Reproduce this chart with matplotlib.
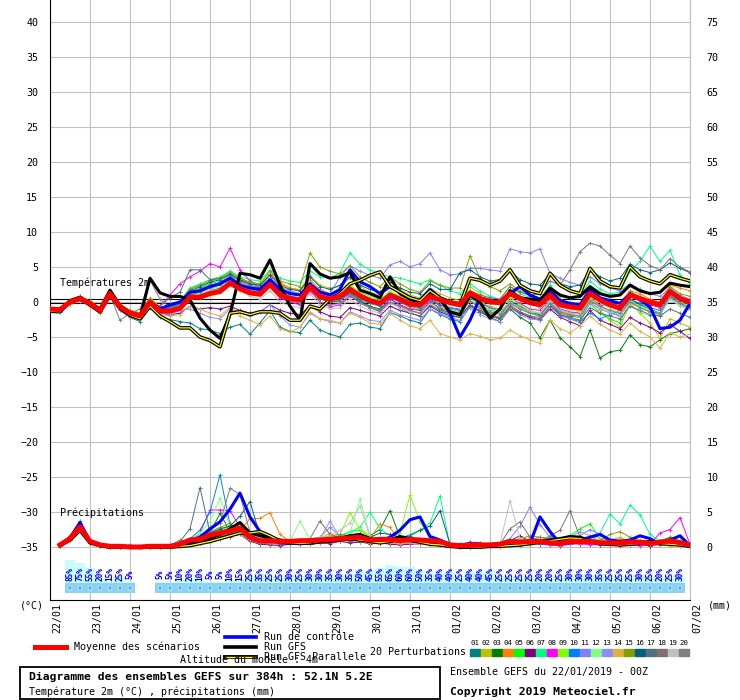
import matplotlib
matplotlib.use('Agg')
import matplotlib.pyplot as plt
import matplotlib.transforms as mtransforms
from matplotlib.lines import Line2D
from matplotlib.patches import Rectangle
import numpy as np

plt.rcParams['font.family'] = 'DejaVu Sans Mono'

# time axis: run of 384h, one point every 6h
hours = np.arange(0, 385, 6)
precip_hours = hours[1:]

date_labels = ['22/01', '23/01', '24/01', '25/01', '26/01', '27/01', '28/01', '29/01', '30/01',
               '31/01', '01/02', '02/02', '03/02', '04/02', '05/02', '06/02', '07/02']

# ---- temperatures 2m (degC) ----
mean_temp = [-1.0, -1.1, 0.0, 0.5, -0.2, -1.2, 1.2, -0.7, -1.6, -2.0, 0.0, -1.3, -1.3,
             -0.9, 0.7, 0.7, 1.2, 1.5, 2.7, 1.9, 1.3, 1.1,
             2.5, 1.0, 0.5, 0.3, 2.2, 0.8, 0.4, 0.8, 1.8, 0.9, 0.2, -0.2,
             1.0, 0.4, -0.3, -0.4, 0.8, 0.3, -0.1, -0.4, 1.3, 0.5, 0.0, -0.1,
             1.2, 0.5, -0.1, -0.4, 1.0, -0.4, -0.7, -0.9, 1.2, 0.3, -0.4, -0.9, 1.0, 0.5, 0.0, -0.4, 1.5, 0.5, 0.0]
control_temp = [-1.0, -1.1, 0.0, 0.5, -0.2, -1.1, 1.2, -0.6, -1.5, -1.9, 0.0, -1.0, -0.4,
                0.0, 1.4, 1.6, 2.2, 2.6, 3.4, 2.4, 2.0, 1.8,
                3.2, 1.8, 1.2, 1.0, 2.6, 1.4, 1.0, 1.8, 4.6, 2.9, 2.2, 1.2,
                2.2, 1.4, 0.6, 0.2, 1.8, 0.6, -1.6, -5.0, -2.6, 0.6, 0.2, 0.0,
                1.2, 2.2, 1.0, 0.4, 1.6, 0.2, -0.2, -0.4, 1.8, 0.6, 0.2, -0.2, 1.2, 0.4, -0.7, -3.8, -3.6, -2.6, -0.2]
gfs_temp = [-1.2, -1.3, 0.2, 0.7, -0.2, -1.0, 1.7, -0.5, -1.6, -2.2, 3.4, 1.3, 0.8,
            0.8, 0.3, -2.3, -4.0, -5.2, -1.8, 4.1, 3.9, 3.4,
            6.0, 2.4, -0.6, -2.6, 5.5, 4.0, 3.4, 3.6, 4.2, 1.7, 1.2, 0.6,
            3.6, 1.2, 0.4, -0.2, 1.6, 0.4, -1.4, -1.8, 1.0, 0.0, -2.3, -1.0,
            1.6, 0.6, 0.4, 0.2, 2.0, 1.0, 0.6, 0.8, 2.2, 1.2, 0.8, 1.0, 2.4, 1.6, 1.2, 1.4, 2.7, 2.4, 2.2]
para_temp = [-1.3, -1.4, 0.1, 0.5, -0.4, -1.4, 1.0, -0.9, -1.9, -2.4, -0.6, -2.0, -2.8,
             -3.7, -3.7, -5.0, -5.5, -6.4, -1.6, -1.4, -1.8, -1.4,
             -1.4, -1.6, -2.6, -2.6, -0.6, -1.0, 0.4, 1.2, 2.6, 3.1, 3.8, 4.3,
             2.2, 1.4, 0.6, 0.2, 1.6, 0.6, 0.0, -0.4, 3.4, 3.1, 2.4, 3.0,
             4.6, 2.4, 1.6, 1.2, 4.1, 2.4, 1.6, 1.2, 4.8, 3.0, 2.2, 2.0, 5.0, 3.6, 3.0, 2.6, 3.9, 3.4, 3.0]

temp_p01 = [-1.2, -1.4, -0.3, 0.2, -0.6, -1.6, 0.8, -1.2, -2.2, -2.8, -0.8, -2.2, -2.5,
            -2.8, -3.0, -3.8, -4.0, -4.5, -3.6, -3.2, -4.6, -3.0,
            -1.2, -3.6, -4.2, -4.4, -2.6, -4.0, -4.6, -5.0, -3.2, -3.0, -3.6, -3.8,
            -1.5, -2.0, -2.6, -3.0, -1.0, -1.8, -2.4, -2.8, -0.6, -1.2, -1.8, -2.2,
            0.2, -0.6, -1.4, -1.8, 0.0, -1.6, -2.0, -2.2, 0.6, -0.6, -1.4, -2.0, 0.4, -0.4, -1.0, -1.6, 1.0, -0.2, -0.8]
temp_p02 = [-0.8, -0.9, 0.3, 0.8, 0.1, -0.9, 1.6, -0.3, -1.2, -1.5, 0.6, -0.7, -0.6,
            0.2, 2.0, 2.4, 3.0, 3.4, 4.4, 3.4, 2.8, 2.6,
            4.0, 2.6, 2.0, 1.8, 3.8, 2.4, 2.0, 2.2, 3.4, 2.2, 1.4, 1.0,
            2.4, 1.8, 1.0, 0.6, 2.0, 1.2, 0.6, 0.2, 2.2, 1.2, 0.4, 0.0,
            1.8, 0.8, -0.2, -0.8, 1.2, -1.2, -2.4, -3.0, 0.4, -1.2, -2.6, -3.6, -0.2, -1.6, -3.0, -5.2, -2.4, -3.0, -3.6]
temp_p03 = [-1.1, -1.2, 0.1, 0.6, -0.1, -1.1, 1.3, -0.6, -1.4, -1.8, 0.4, -1.0, -1.0,
            -0.4, 1.4, 1.8, 2.4, 2.6, 3.6, 2.6, 2.0, 1.6,
            3.0, 1.4, 0.6, 0.2, 2.4, 0.6, 0.0, 0.2, 1.4, 0.2, -0.6, -1.0,
            0.4, -0.4, -1.2, -1.6, 0.0, -1.0, -1.6, -2.0, -0.4, -1.4, -2.2, -2.8,
            -1.0, -2.2, -3.0, -5.1, -2.6, -5.1, -6.4, -7.8, -4.0, -8.0, -7.1, -6.9, -4.7, -6.1, -6.4, -5.4, -4.5, -4.2, -3.8]
temp_p04 = [-1.0, -1.0, 0.2, 0.7, 0.0, -1.0, 1.4, -0.5, -1.3, -1.7, 0.3, -1.1, -1.2,
            -0.6, 1.0, 1.4, 2.2, 2.8, 3.4, 2.8, 2.2, 2.0,
            4.0, 2.8, 2.0, 1.6, 3.2, 1.8, 1.2, 1.4, 2.4, 1.2, 0.4, -0.2,
            0.8, 0.0, -0.8, -1.2, 0.4, -0.6, -1.4, -1.8, 0.2, -1.0, -1.6, -2.4,
            -0.4, -1.4, -2.0, -2.2, -0.6, -1.6, -1.8, -1.4, 0.6, 0.2, -0.6, -0.8, 1.6, 1.2, 0.4, 0.0, 2.4, 2.0, 1.6]
temp_p05 = [-1.0, -1.2, -0.1, 0.4, -0.3, -1.3, 1.1, -0.8, -1.7, -2.1, -0.2, -1.4, -1.2,
            -0.5, 1.4, 2.0, 2.6, 3.0, 3.8, 3.0, 2.6, 2.2,
            3.2, 2.0, 1.4, 1.0, 2.8, 1.4, 0.8, 1.0, 2.2, 1.0, 0.2, -0.4,
            1.0, 0.2, -0.6, -1.0, 0.6, -0.4, -1.0, -1.4, 0.6, -0.4, -1.2, -1.6,
            0.0, -1.0, -1.6, -2.0, 0.6, -1.2, -1.6, -2.2, -0.2, -1.6, -2.4, -3.0, 0.2, -0.8, -1.4, -1.8, 0.8, 0.2, -0.4]
temp_p06 = [-1.1, -1.2, 0.0, 0.4, -0.3, -1.3, 1.0, -0.9, -1.8, -2.2, -0.4, -1.6, -1.8,
            -1.6, -0.6, -1.0, -0.8, -1.0, -0.6, -1.2, -1.6, -1.4,
            -0.4, -1.2, -1.6, -1.8, -0.6, -1.4, -2.0, -2.2, -0.8, -1.2, -1.6, -2.0,
            -0.6, -1.2, -1.6, -2.0, -0.6, -1.4, -2.0, -2.2, -0.4, -1.4, -2.0, -2.4,
            -0.8, -1.6, -2.2, -2.6, -1.0, -2.2, -2.8, -3.4, -1.2, -2.6, -3.2, -3.8, -2.2, -3.0, -3.6, -4.4, -3.2, -4.2, -5.2]
temp_p07 = [-0.9, -0.9, 0.2, 0.7, 0.1, -0.9, 1.5, -0.4, -1.3, -1.6, 0.4, -0.9, -0.8,
            0.0, 2.0, 2.6, 3.2, 3.6, 4.4, 3.6, 3.2, 3.0,
            4.6, 3.4, 3.0, 2.8, 4.4, 3.6, 3.4, 4.2, 7.0, 5.4, 4.6, 4.0,
            3.6, 3.4, 3.0, 2.6, 3.2, 2.4, 1.6, 1.2, 2.6, 1.6, 0.8, 0.4,
            2.2, 1.2, 0.6, 0.4, 2.4, 0.8, 0.6, 0.8, 3.0, 1.8, 1.2, 1.4, 4.4, 5.8, 8.0, 5.8, 7.4, 3.8, 2.6]
temp_p08 = [-1.0, -1.1, 0.1, 0.6, -0.1, -1.1, 1.3, -0.6, -1.5, -1.9, 0.1, -0.6, 1.0,
            2.6, 3.6, 4.4, 5.5, 5.0, 7.7, 4.6, 3.0, 2.0,
            2.6, 0.6, 0.0, -0.4, 1.6, 0.0, -0.7, -0.4, 0.8, 0.0, -0.8, -1.2,
            0.4, -0.4, -1.0, -1.2, 0.2, -0.4, -0.8, -1.0, 0.8, 0.0, -0.8, -1.0,
            0.6, -0.2, -1.0, -1.2, 0.4, -1.0, -1.4, -1.6, 0.6, -0.4, -0.6, -0.8, 0.8, 0.2, -0.4, -0.8, 1.2, 0.4, 0.0]
temp_p09 = [-1.1, -1.0, 0.0, 0.5, -0.2, -1.2, 1.2, -0.7, -1.6, -2.0, -0.1, -1.4, -1.5,
            -1.0, 0.4, 0.6, 1.0, 1.4, 2.4, 1.8, 1.2, 1.0,
            2.4, 1.0, 0.6, 0.4, 2.6, 1.4, 0.8, 1.2, 2.4, 1.4, 0.8, 0.4,
            1.6, 0.8, 0.2, 0.0, 1.2, 0.4, -0.2, -0.6, 0.8, 0.0, -0.6, -1.0,
            0.6, -0.4, -1.2, -1.6, 0.2, -1.4, -1.8, -2.2, 0.6, -0.6, -1.4, -1.8, 0.2, -0.6, -1.2, -1.6, 1.0, 0.0, -0.6]
temp_p10 = [-1.0, -1.1, 0.0, 0.5, -0.3, -1.2, 1.2, -0.6, -1.6, -2.0, 0.0, -1.2, -1.0,
            -0.6, 1.2, 1.6, 2.2, 2.6, 3.2, 2.6, 2.0, 1.6,
            2.8, 1.4, 0.8, 0.6, 2.2, 0.6, 0.2, 0.4, 1.4, 0.4, -0.2, -0.6,
            0.6, 0.0, -0.6, -0.8, 0.4, -0.4, -0.8, -1.2, 0.8, -0.2, -0.8, -1.4,
            0.0, -0.8, -1.4, -1.8, -0.2, -1.8, -2.4, -2.8, -1.6, -2.4, -1.8, -1.2, 0.4, -0.2, -0.8, -1.2, 0.8, 0.2, -0.4]
temp_p11 = [-0.9, -1.0, 0.1, 0.6, -0.1, -1.1, 1.3, -0.5, -1.4, -1.8, 0.2, -1.0, -0.9,
            -0.4, 1.2, 1.8, 2.4, 2.8, 3.6, 2.6, 2.0, 1.8,
            3.4, 2.2, 1.6, 1.2, 2.8, 1.6, 1.2, 3.6, 5.2, 4.4, 3.8, 3.4,
            5.3, 5.8, 5.0, 5.5, 7.0, 4.6, 3.9, 4.0, 4.8, 4.8, 4.6, 4.4,
            7.6, 7.2, 7.0, 7.6, 4.1, 3.4, 2.8, 2.4, 3.6, 2.6, 2.0, 1.6, 2.6, 1.8, 1.2, 0.8, 2.0, 1.0, 0.4]
temp_p12 = [-1.0, -1.1, 0.0, 0.6, -0.2, -1.2, 1.2, -0.7, -1.5, -1.9, 0.1, -1.2, -1.1,
            -0.6, 1.0, 1.2, 1.8, 2.2, 3.0, 2.2, 1.6, 1.4,
            2.8, 1.2, 0.8, 0.6, 2.4, 1.0, 0.6, 1.0, 2.0, 1.2, 0.6, 0.2,
            1.4, 0.8, 0.2, -0.2, 1.0, 0.2, -0.4, -0.8, 1.6, 0.8, 0.2, -0.2,
            1.6, 0.6, -0.2, -0.6, 1.2, -0.6, -1.2, -1.4, 0.8, 0.0, -1.0, -1.6, -0.6, -1.4, -2.0, -1.8, 0.4, -0.6, -1.2]
temp_p13 = [-1.1, -1.3, -0.2, 0.3, -0.4, -1.4, 1.0, -0.9, -1.8, -2.2, -0.3, -1.6, -1.7,
            -1.2, -1.0, -1.6, -2.2, -2.4, -1.0, -1.4, -2.0, -1.4,
            -0.4, -2.0, -3.3, -3.6, -1.6, -2.4, -2.8, -3.0, -1.4, -2.0, -2.6, -2.8,
            -1.2, -1.8, -2.2, -2.6, -1.0, -1.6, -2.2, -2.6, -0.8, -1.8, -2.4, -2.8,
            -0.8, -1.8, -2.4, -2.6, -0.6, -2.0, -2.4, -2.6, -0.2, -1.0, -1.6, -2.0, 0.0, -0.8, -1.4, -1.8, 0.6, -0.4, -1.0]
temp_p14 = [-1.2, -1.4, -0.3, 0.2, -0.5, -1.6, 0.9, -1.0, -2.0, -2.4, -0.6, -1.8, -2.0,
            -1.8, -0.6, -1.0, -1.6, -2.0, -0.8, -2.0, -2.6, -3.3,
            -2.0, -3.8, -4.3, -3.6, -1.4, -2.4, -2.6, -3.0, -1.6, -2.2, -3.0, -3.2,
            -1.6, -2.6, -3.4, -3.8, -2.6, -4.5, -5.0, -5.4, -4.5, -4.9, -5.4, -5.2,
            -4.0, -4.8, -5.4, -5.9, -2.6, -3.8, -4.4, -3.4, -2.0, -3.2, -4.0, -4.6, -3.0, -4.2, -5.0, -6.6, -4.4, -5.0, -4.6]
temp_p15 = [-0.9, -0.9, 0.2, 0.8, 0.1, -0.9, 1.5, -0.4, -1.2, -1.6, 0.5, -0.8, -0.7,
            0.0, 1.8, 2.4, 3.0, 3.4, 4.2, 3.4, 2.8, 2.6,
            4.4, 3.0, 2.6, 2.2, 7.0, 5.0, 4.4, 4.0, 5.2, 3.6, 2.8, 2.2,
            3.6, 2.6, 1.8, 1.4, 3.0, 2.4, 2.0, 2.0, 6.6, 3.4, 2.2, 1.6,
            2.6, 1.6, 0.8, 0.4, 2.0, 0.4, -0.2, -0.4, 1.8, 0.6, 0.0, -0.6, 1.6, 0.6, -0.2, -0.6, 2.2, 1.2, 0.8]
temp_p16 = [-1.0, -1.1, 0.0, 0.5, -0.2, -1.2, 1.2, -0.6, -1.5, -1.9, 0.2, -1.0, -0.8,
            -0.2, 1.6, 2.2, 2.8, 3.2, 4.0, 3.2, 2.6, 2.4,
            3.8, 2.4, 1.8, 1.6, 3.6, 2.2, 1.8, 2.4, 3.6, 2.4, 1.8, 1.4,
            2.8, 2.0, 1.4, 1.2, 2.6, 1.8, 1.8, 4.2, 4.6, 3.6, 3.0, 3.2,
            4.4, 3.2, 2.6, 2.4, 4.0, 2.6, 2.2, 2.4, 4.6, 3.6, 3.0, 3.4, 5.4, 4.6, 4.2, 4.6, 5.6, 4.8, 4.2]
temp_p17 = [-1.1, -1.2, -0.1, 0.4, -0.3, -1.3, 1.1, -0.8, -1.6, -2.0, -0.2, -0.6, 0.6,
            1.4, 4.6, 4.6, 3.2, 3.4, 3.8, 3.0, 2.4, 2.0,
            3.0, 1.4, 0.8, 0.4, 2.0, 0.4, 0.0, 0.2, 1.2, 0.0, -0.8, -1.4,
            0.0, -0.8, -1.6, -2.0, -0.4, -1.2, -1.8, -2.2, -0.4, -1.4, -2.0, -2.4,
            -0.6, -1.4, -2.0, -2.4, -0.6, -1.8, -2.2, -2.6, -0.8, -1.6, -2.0, -2.4, -0.6, -1.2, -1.8, -2.0, -1.0, -1.6, -2.2]
temp_p18 = [-1.0, -1.0, 0.1, 0.6, -0.1, -1.1, 1.3, -0.6, -1.5, -1.9, 0.1, -1.1, -1.1,
            -0.8, 0.6, 1.0, 1.6, 2.0, 2.8, 2.0, 1.4, 1.2,
            2.6, 1.2, 0.6, 0.4, 2.2, 0.8, 0.4, 0.8, 1.8, 1.0, 0.4, 0.0,
            1.2, 0.6, 0.0, -0.2, 1.2, 0.6, 0.2, 0.0, 1.6, 1.0, 0.6, 0.4,
            2.2, 1.4, 1.0, 1.2, 3.0, 2.4, 4.6, 7.2, 8.4, 8.0, 6.7, 5.5, 8.0, 6.3, 5.2, 4.6, 6.2, 5.0, 4.3]
temp_p19 = [-1.0, -1.2, 0.0, 0.5, -0.2, -1.2, 1.1, -0.7, -1.6, -2.1, -0.1, -1.3, -1.4,
            -0.9, 0.8, 0.8, 1.6, 1.8, 2.6, 1.6, 0.8, 0.4,
            1.6, 0.0, -0.6, -0.8, 1.2, -0.4, -1.0, -0.8, 0.4, -0.6, -1.2, -1.6,
            -0.2, -0.8, -1.4, -1.6, -0.2, -0.8, -1.2, -1.6, 0.2, -0.6, -1.0, -1.4,
            0.0, -0.8, -1.4, -1.6, 0.0, -1.2, -1.6, -1.8, 0.2, -0.8, -1.4, -1.8, -0.2, -0.8, -1.4, -1.6, 0.4, -0.4, -1.0]
temp_p20 = [-1.1, -1.2, 0.0, 0.4, -0.3, -1.3, 1.0, -2.6, -1.6, -1.0, 3.1, 0.4, -0.8,
            -0.6, 1.0, 1.4, 2.0, 2.4, 3.2, 2.4, 1.8, 1.4,
            2.8, 1.0, 0.2, -0.2, 1.8, 0.0, -0.4, -0.2, 1.0, -0.2, -0.8, -1.2,
            0.0, -0.6, -1.2, -1.6, 0.0, -0.8, -1.4, -1.8, 0.2, -0.8, -1.4, -1.8,
            -0.2, -1.0, -1.6, -2.0, -0.2, -1.4, -1.8, -2.0, 0.2, -0.6, -1.2, -1.6, 0.0, -0.8, -1.4, -1.6, 0.8, -0.2, -0.8]

# ---- precipitations (mm / 6h), from +6h ----
mean_precip = [0.3, 1.2, 2.9, 0.8, 0.3, 0.1, 0.1, 0.0,
               0.0, 0.1, 0.1, 0.1, 0.4, 1.0, 1.1, 1.7,
               2.0, 2.3, 2.7, 1.4, 0.9, 0.9, 0.8, 0.8,
               0.9, 0.9, 1.0, 1.1, 1.2, 1.3, 1.4, 1.0,
               1.1, 1.1, 0.9, 1.1, 1.0, 0.9, 0.8, 0.3,
               0.2, 0.2, 0.3, 0.3, 0.4, 0.8, 0.7, 0.8,
               0.8, 0.6, 0.5, 0.8, 0.8, 0.8, 0.6, 0.6,
               0.6, 0.7, 0.7, 0.5, 0.7, 0.9, 0.6, 0.3]
control_precip = [0.3, 1.3, 3.5, 0.8, 0.2, 0.0, 0.0, 0.0,
                  0.0, 0.0, 0.0, 0.0, 0.2, 0.6, 1.4, 2.6,
                  3.6, 5.4, 7.7, 4.3, 2.2, 1.0, 0.6, 0.5,
                  0.6, 0.7, 0.8, 1.0, 1.2, 1.6, 1.4, 1.0,
                  0.8, 1.4, 2.4, 3.9, 4.3, 1.5, 1.0, 0.3,
                  0.0, 0.0, 0.1, 0.2, 0.4, 0.4, 0.3, 0.5,
                  4.3, 2.2, 0.5, 0.6, 0.8, 1.4, 1.8, 1.0,
                  0.8, 1.0, 1.6, 1.2, 0.4, 1.0, 1.6, 0.2]
gfs_precip = [0.3, 1.1, 2.6, 0.7, 0.2, 0.0, 0.0, 0.0,
              0.0, 0.0, 0.0, 0.0, 0.1, 0.3, 0.8, 1.2,
              1.8, 2.6, 3.5, 2.0, 1.6, 1.4, 1.0, 0.8,
              0.6, 0.5, 0.7, 0.8, 1.2, 1.6, 1.8, 1.2,
              0.8, 1.0, 1.5, 1.2, 0.8, 0.5, 0.3, 0.1,
              0.0, 0.0, 0.0, 0.1, 0.2, 0.3, 0.4, 0.6,
              0.8, 1.0, 1.2, 1.5, 1.4, 0.9, 0.6, 0.5,
              0.4, 0.5, 0.6, 0.8, 0.6, 0.5, 0.4, 0.1]
para_precip = [0.2, 1.0, 2.4, 0.6, 0.2, 0.0, 0.0, 0.0,
               0.0, 0.0, 0.0, 0.0, 0.1, 0.2, 0.5, 0.8,
               1.2, 1.6, 2.0, 2.0, 2.2, 1.6, 0.8, 0.6,
               0.5, 0.6, 0.8, 0.9, 1.0, 1.2, 1.0, 0.8,
               0.6, 0.8, 1.2, 1.0, 0.7, 0.4, 0.3, 0.1,
               0.0, 0.0, 0.0, 0.1, 0.1, 0.2, 0.3, 0.5,
               0.7, 0.9, 1.1, 1.3, 1.2, 0.8, 0.5, 0.4,
               0.3, 0.4, 0.5, 0.6, 0.5, 0.4, 0.3, 0.1]

precip_p01 = [0.2, 1.0, 2.6, 0.6, 0.2, 0.0, 0.0, 0.3,
              0.0, 0.0, 0.0, 0.0, 0.3, 0.6, 1.0, 1.2,
              1.8, 2.4, 3.0, 1.2, 0.5, 0.6, 0.4, 0.5,
              0.6, 0.4, 0.8, 1.0, 0.9, 1.2, 1.6, 0.6,
              0.8, 0.6, 0.5, 0.8, 0.6, 0.4, 0.5, 0.1,
              0.0, 0.0, 0.2, 0.1, 0.3, 0.6, 0.4, 0.5,
              0.6, 0.3, 0.2, 0.4, 0.5, 0.6, 0.3, 0.4,
              0.5, 0.3, 0.4, 0.2, 0.5, 0.7, 0.4, 0.2]
precip_p02 = [0.3, 1.4, 3.0, 0.9, 0.2, 0.0, 0.0, 0.0,
              0.0, 0.0, 0.0, 0.0, 0.2, 0.8, 1.2, 1.6,
              2.6, 1.8, 2.2, 1.0, 0.6, 0.8, 0.6, 0.4,
              0.5, 0.8, 1.2, 2.0, 1.0, 0.8, 0.9, 0.4,
              0.6, 0.8, 0.6, 0.4, 0.6, 0.5, 0.3, 0.0,
              0.0, 0.1, 0.0, 0.2, 0.1, 0.4, 0.5, 0.3,
              0.6, 0.4, 0.2, 0.5, 0.4, 0.6, 0.8, 0.4,
              0.5, 0.6, 1.0, 0.7, 0.4, 0.3, 0.2, 0.1]
precip_p03 = [0.2, 1.1, 2.8, 0.7, 0.3, 0.0, 0.0, 0.0,
              0.0, 0.0, 0.0, 0.0, 0.5, 1.2, 1.6, 2.0,
              4.8, 2.2, 2.6, 1.0, 0.6, 0.6, 0.5, 0.6,
              0.8, 0.6, 0.8, 1.2, 1.0, 0.9, 1.2, 1.6,
              2.5, 5.2, 1.4, 1.2, 0.8, 0.6, 0.9, 0.2,
              0.0, 0.0, 0.1, 0.3, 0.2, 0.4, 0.5, 0.4,
              0.5, 0.6, 0.7, 0.9, 1.2, 0.8, 0.6, 0.5,
              0.4, 0.6, 0.5, 0.6, 0.8, 1.4, 0.8, 0.3]
precip_p04 = [0.4, 1.2, 2.7, 0.8, 0.2, 0.0, 0.0, 0.0,
              0.0, 0.0, 0.0, 0.0, 0.6, 1.0, 0.8, 1.4,
              1.6, 2.0, 2.4, 4.0, 4.1, 4.9, 1.8, 0.8,
              0.6, 0.4, 0.6, 0.8, 1.0, 1.2, 1.0, 1.2,
              3.3, 2.8, 0.8, 0.6, 0.5, 0.4, 0.3, 0.1,
              0.0, 0.0, 0.2, 0.1, 0.0, 0.2, 0.3, 0.4,
              0.6, 0.8, 0.6, 0.5, 0.9, 1.0, 0.8, 0.9,
              1.2, 0.8, 0.6, 0.4, 0.3, 0.2, 0.2, 0.1]
precip_p05 = [0.3, 1.3, 3.0, 0.8, 0.3, 0.0, 0.0, 0.0,
              0.0, 0.0, 0.0, 0.0, 0.3, 0.8, 1.4, 2.0,
              2.4, 3.0, 3.2, 1.6, 0.8, 0.6, 0.8, 0.7,
              0.9, 1.0, 0.8, 1.4, 1.6, 2.2, 2.4, 1.4,
              1.0, 1.2, 0.8, 1.0, 0.6, 0.8, 0.6, 0.2,
              0.1, 0.0, 0.2, 0.3, 0.5, 0.8, 0.6, 0.9,
              0.8, 1.0, 1.2, 1.6, 2.6, 3.3, 1.2, 1.0,
              0.8, 0.6, 0.5, 0.4, 0.6, 0.9, 0.5, 0.3]
precip_p06 = [0.3, 1.1, 2.6, 0.8, 0.3, 0.0, 0.0, 0.0,
              0.0, 0.0, 0.0, 0.0, 0.2, 0.5, 0.6, 0.8,
              1.2, 1.5, 1.8, 0.8, 0.4, 0.3, 0.2, 0.4,
              0.5, 0.8, 0.6, 0.5, 0.8, 0.6, 0.7, 0.5,
              0.6, 0.4, 0.3, 0.4, 0.5, 0.6, 0.4, 0.2,
              0.4, 0.7, 0.6, 0.3, 0.5, 0.9, 1.6, 0.8,
              0.6, 0.4, 0.3, 0.6, 0.5, 0.4, 0.3, 0.3,
              0.5, 0.4, 0.3, 0.2, 0.4, 0.6, 0.4, 0.2]
precip_p07 = [0.3, 1.2, 2.8, 0.8, 0.2, 0.0, 0.0, 0.0,
              0.0, 0.0, 0.0, 0.0, 0.4, 0.9, 1.3, 1.6,
              2.0, 2.4, 2.8, 1.6, 0.8, 0.5, 0.4, 0.6,
              0.7, 0.6, 0.9, 1.0, 1.4, 2.2, 2.8, 5.0,
              2.6, 1.6, 1.2, 1.8, 2.4, 3.4, 7.3, 0.2,
              0.0, 0.1, 0.2, 0.1, 0.2, 0.3, 0.2, 0.4,
              0.5, 0.4, 0.3, 0.9, 1.2, 1.6, 2.0, 4.7,
              3.3, 6.0, 4.6, 1.8, 0.9, 1.2, 1.0, 0.4]
precip_p08 = [0.3, 1.0, 2.4, 0.6, 0.2, 0.0, 0.0, 0.0,
              0.0, 0.0, 0.0, 0.0, 0.3, 0.9, 2.0, 5.3,
              5.3, 5.2, 2.8, 1.0, 0.6, 0.5, 0.4, 0.6,
              0.6, 0.8, 0.7, 0.9, 1.0, 1.2, 1.0, 0.8,
              0.6, 0.8, 0.6, 0.5, 0.4, 0.4, 0.3, 0.1,
              0.0, 0.0, 0.1, 0.2, 0.2, 0.5, 0.4, 0.5,
              0.4, 0.3, 0.2, 0.4, 0.5, 0.3, 0.4, 0.3,
              0.2, 0.3, 0.2, 0.4, 2.0, 2.5, 4.2, 0.4]
precip_p09 = [0.3, 1.3, 2.9, 0.9, 0.3, 0.0, 0.0, 0.0,
              0.0, 0.0, 0.0, 0.0, 0.2, 0.8, 1.2, 1.8,
              2.2, 2.8, 3.2, 1.4, 0.8, 0.6, 0.6, 0.8,
              0.9, 1.0, 1.2, 1.4, 1.8, 4.9, 2.6, 1.6,
              1.2, 1.4, 2.0, 7.4, 3.6, 1.2, 0.6, 0.2,
              0.0, 0.1, 0.1, 0.2, 0.4, 0.6, 0.5, 0.7,
              0.9, 0.8, 0.6, 0.7, 0.9, 1.2, 0.8, 0.6,
              0.5, 0.6, 0.4, 0.5, 0.7, 0.8, 0.6, 0.3]
precip_p10 = [0.3, 1.4, 3.5, 0.9, 0.3, 0.0, 0.0, 0.0,
              0.0, 0.0, 0.0, 0.0, 0.4, 1.2, 2.4, 5.0,
              10.3, 3.2, 2.6, 1.4, 0.8, 0.5, 0.6, 0.5,
              0.6, 0.8, 1.0, 1.2, 1.6, 1.4, 1.2, 0.8,
              1.0, 1.4, 1.2, 1.0, 0.8, 0.6, 0.5, 0.2,
              0.0, 0.0, 0.1, 0.2, 0.3, 0.6, 0.8, 1.0,
              1.4, 1.2, 0.8, 1.0, 0.9, 0.7, 0.6, 0.8,
              0.5, 0.6, 0.4, 0.5, 0.6, 0.8, 0.5, 0.2]
precip_p11 = [0.3, 1.2, 2.8, 0.8, 0.3, 0.0, 0.0, 0.0,
              0.0, 0.0, 0.0, 0.0, 0.3, 0.6, 0.9, 1.4,
              1.8, 2.0, 2.4, 1.2, 0.6, 0.5, 0.6, 0.8,
              1.0, 1.2, 1.4, 2.8, 1.6, 1.0, 0.9, 0.6,
              0.8, 0.9, 0.7, 0.6, 0.5, 0.4, 0.3, 0.2,
              0.1, 0.2, 0.4, 0.3, 0.6, 1.2, 3.0, 5.7,
              3.2, 1.4, 0.8, 1.0, 1.6, 2.5, 1.8, 0.9,
              0.7, 0.8, 0.6, 0.5, 0.6, 0.7, 0.5, 0.3]
precip_p12 = [0.3, 1.1, 2.7, 0.8, 0.3, 0.0, 0.0, 0.0,
              0.0, 0.0, 0.0, 0.0, 0.4, 1.0, 2.0, 3.6,
              7.0, 3.0, 2.2, 1.2, 0.7, 0.6, 0.6, 0.8,
              3.7, 1.0, 1.4, 1.6, 1.2, 2.0, 6.8, 1.6,
              1.2, 1.0, 0.8, 0.9, 0.7, 0.6, 0.5, 0.2,
              0.0, 0.1, 0.1, 0.2, 0.3, 0.5, 0.4, 0.5,
              0.6, 0.5, 0.4, 0.6, 0.7, 0.9, 0.6, 0.5,
              0.4, 0.6, 0.5, 0.4, 0.6, 0.8, 0.5, 0.3]
precip_p13 = [0.3, 1.2, 2.9, 0.8, 0.3, 0.0, 0.0, 0.0,
              0.0, 0.0, 0.0, 0.0, 0.3, 0.7, 1.0, 1.6,
              2.0, 2.4, 2.6, 1.2, 0.6, 0.5, 0.6, 0.7,
              0.8, 0.9, 1.2, 3.7, 1.4, 1.0, 1.2, 0.8,
              0.9, 0.8, 0.6, 0.7, 0.5, 0.4, 0.4, 0.1,
              0.0, 0.1, 0.2, 0.4, 0.6, 0.9, 0.8, 1.0,
              0.8, 1.0, 0.9, 1.4, 2.2, 1.6, 0.8, 0.6,
              0.6, 0.5, 0.4, 0.6, 0.8, 0.9, 0.5, 0.2]
precip_p14 = [0.3, 1.0, 2.5, 0.7, 0.2, 0.0, 0.0, 0.0,
              0.0, 0.0, 0.0, 0.0, 0.2, 0.5, 0.7, 1.0,
              1.4, 1.6, 1.8, 1.0, 0.6, 0.5, 0.4, 0.5,
              0.6, 0.7, 0.6, 0.8, 0.9, 1.0, 0.8, 0.6,
              0.8, 0.6, 0.5, 0.6, 0.4, 0.3, 0.3, 0.1,
              0.0, 0.0, 0.1, 0.2, 0.2, 0.5, 0.8, 1.2,
              1.0, 0.6, 0.5, 0.8, 1.0, 1.6, 1.2, 1.0,
              1.4, 0.8, 0.6, 0.5, 0.3, 0.2, 0.2, 0.1]
precip_p15 = [0.3, 1.2, 2.8, 0.8, 0.3, 0.0, 0.0, 0.0,
              0.0, 0.0, 0.0, 0.0, 0.3, 0.8, 1.6, 2.2,
              2.8, 3.4, 2.0, 1.0, 0.6, 0.8, 0.8, 0.7,
              0.8, 1.0, 1.2, 1.6, 1.8, 1.6, 1.4, 1.0,
              0.8, 0.9, 0.8, 0.7, 0.6, 0.5, 0.4, 0.1,
              0.0, 0.0, 0.1, 0.2, 0.3, 0.8, 1.2, 1.6,
              1.4, 1.0, 0.8, 1.2, 1.4, 1.0, 0.9, 1.8,
              2.2, 1.4, 0.8, 0.9, 0.6, 0.8, 0.5, 0.2]
precip_p16 = [0.3, 1.2, 2.9, 0.8, 0.3, 0.0, 0.0, 0.0,
              0.0, 0.0, 0.0, 0.0, 0.4, 0.9, 1.4, 2.0,
              2.6, 3.0, 4.4, 6.5, 1.6, 0.8, 0.6, 0.6,
              0.8, 0.9, 1.0, 1.2, 1.4, 1.6, 1.8, 1.4,
              2.0, 1.8, 1.4, 1.6, 2.4, 3.0, 5.2, 0.4,
              0.1, 0.0, 0.2, 0.2, 0.3, 0.5, 0.4, 0.6,
              0.5, 0.4, 0.6, 0.8, 0.9, 0.7, 0.6, 0.5,
              0.6, 0.7, 0.5, 0.6, 0.8, 0.9, 0.6, 0.3]
precip_p17 = [0.4, 1.6, 3.7, 1.0, 0.3, 0.0, 0.0, 0.0,
              0.0, 0.0, 0.0, 0.0, 0.8, 2.6, 8.5, 2.0,
              1.6, 1.8, 2.0, 1.0, 0.6, 0.5, 0.5, 0.6,
              0.7, 0.8, 1.0, 1.2, 1.0, 0.9, 1.0, 0.8,
              1.0, 0.9, 0.8, 0.7, 0.6, 0.5, 0.4, 0.2,
              0.0, 0.0, 0.1, 0.2, 0.3, 0.6, 0.5, 0.6,
              0.8, 0.7, 0.6, 0.9, 1.0, 0.8, 0.6, 0.7,
              0.8, 0.6, 0.5, 0.6, 0.7, 0.8, 0.5, 0.2]
precip_p18 = [0.3, 1.2, 2.8, 0.8, 0.3, 0.0, 0.0, 0.0,
              0.0, 0.0, 0.0, 0.2, 1.0, 0.8, 1.0, 1.4,
              1.8, 2.2, 2.4, 1.0, 0.6, 0.5, 0.6, 0.8,
              1.0, 1.2, 3.7, 1.8, 1.2, 1.4, 1.6, 1.0,
              1.2, 1.0, 0.8, 0.9, 0.7, 0.5, 0.4, 0.1,
              0.0, 0.1, 0.2, 0.2, 0.4, 2.6, 3.6, 1.4,
              0.8, 1.6, 2.4, 5.2, 1.4, 0.9, 0.7, 0.6,
              0.5, 0.6, 0.5, 0.6, 0.7, 0.8, 0.5, 0.3]
precip_p19 = [0.3, 1.1, 2.7, 0.8, 0.3, 0.0, 0.0, 0.0,
              0.0, 0.0, 0.0, 0.0, 0.3, 0.8, 1.2, 1.8,
              2.2, 2.6, 2.8, 1.2, 0.7, 0.6, 0.6, 0.8,
              0.9, 1.0, 1.4, 1.6, 2.4, 3.4, 5.8, 1.4,
              1.0, 0.9, 0.8, 0.9, 0.7, 0.6, 0.5, 0.2,
              0.0, 0.1, 0.2, 0.3, 0.5, 6.6, 1.2, 0.8,
              0.6, 0.5, 0.6, 0.8, 0.9, 0.7, 0.6, 0.5,
              0.4, 0.5, 0.4, 0.5, 0.6, 0.8, 0.5, 0.2]
precip_p20 = [0.4, 1.5, 3.3, 0.9, 0.3, 0.0, 0.0, 0.0,
              0.0, 0.0, 0.1, 0.0, 0.5, 1.0, 1.6, 2.4,
              3.4, 8.4, 7.5, 2.0, 0.8, 0.6, 0.6, 0.7,
              0.8, 0.9, 1.0, 1.2, 1.4, 1.6, 1.8, 1.0,
              0.9, 0.8, 0.7, 0.8, 0.6, 0.5, 0.4, 0.2,
              0.0, 0.0, 0.2, 0.2, 0.3, 0.5, 0.6, 0.5,
              0.6, 0.5, 0.6, 0.7, 0.8, 0.6, 0.5, 0.6,
              0.5, 0.6, 0.4, 0.5, 0.7, 0.8, 0.6, 0.3]

member_colors = ['#008080', '#c0c000', '#008000', '#ff8000', '#00ff00', '#800080', '#00ff80',
                 '#ff00ff', '#80ff00', '#0080ff', '#8080ff', '#80ff80', '#8c8cff', '#e0b040',
                 '#80a000', '#006080', '#507080', '#807070', '#c0c0c0', '#808080']

# probability of precipitation (%), cells of 6h
prob_hours_1 = [12, 18, 24, 30, 36, 42, 48]
prob_values_1 = [85, 75, 55, 20, 15, 25, 5]
prob_hours_2 = list(range(66, 379, 6))
prob_values_2 = [5, 5, 10, 20, 10, 5, 5, 10, 15, 25, 35, 25, 25, 30, 25, 30, 30, 35, 30, 35, 50, 45,
                 55, 65, 60, 60, 50, 35, 40, 40, 25, 40, 40, 45, 25, 25, 25, 25, 20, 20, 25, 30,
                 30, 30, 35, 25, 25, 25, 30, 25, 20, 25, 30]

temp_members = [temp_p01, temp_p02, temp_p03, temp_p04, temp_p05, temp_p06, temp_p07, temp_p08,
                temp_p09, temp_p10, temp_p11, temp_p12, temp_p13, temp_p14, temp_p15, temp_p16,
                temp_p17, temp_p18, temp_p19, temp_p20]
precip_members = [precip_p01, precip_p02, precip_p03, precip_p04, precip_p05, precip_p06, precip_p07,
                  precip_p08, precip_p09, precip_p10, precip_p11, precip_p12, precip_p13, precip_p14,
                  precip_p15, precip_p16, precip_p17, precip_p18, precip_p19, precip_p20]


def ty(ypix):  # pixel row of the picture -> temperature axis
    return (302 - ypix) / 7.0


fig = plt.figure(figsize=(7.4, 7.0), dpi=100)
ax = fig.add_axes([50 / 740, 100 / 700, 640 / 740, 600 / 700])
ax.set_xlim(0, 384)
ax.set_ylim(ty(600), ty(0))
grid_c = '#c0c0c0'
for h in range(0, 385, 24):
    ax.axvline(h, color=grid_c, lw=0.8, zorder=0)
for t in range(-35, 41, 5):
    ax.axhline(t, color=grid_c, lw=0.8, zorder=0)
ax.axhline(0.43, color='black', lw=0.8, zorder=2)
ax.axhline(-0.14, color='black', lw=0.8, zorder=2)

ax.spines['top'].set_visible(False)
ax.spines['right'].set_color(grid_c)
ax.set_xticks([])
ax.set_yticks(range(-35, 41, 5))
ax.tick_params(axis='y', length=0, pad=8.5, labelsize=7.2)

ax2 = ax.twinx()
ax2.set_ylim(ty(600) + 35, ty(0) + 35)
ax2.set_yticks(range(0, 76, 5))
ax2.tick_params(axis='y', length=0, pad=12, labelsize=7.2)
for s in ax2.spines.values():
    s.set_visible(False)

# temperature curves
for vals, c in zip(temp_members, member_colors):
    ax.plot(hours, vals, color=c, lw=0.7, marker='+', ms=2.5, mew=0.6, zorder=3)
ax.plot(hours, control_temp, color='#0000ff', lw=2.2, zorder=4)
ax.plot(hours, gfs_temp, color='black', lw=2.2, zorder=4)
ax.plot(hours, para_temp, color='black', lw=2.6, zorder=4)
ax.plot(hours, para_temp, color='#ffff00', lw=0.9, zorder=4)
ax.plot(hours, mean_temp, color='#ff0000', lw=3.6, zorder=5)

# precipitation curves
for vals, c in zip(precip_members, member_colors):
    ax2.plot(precip_hours, vals, color=c, lw=0.7, marker='+', ms=2.5, mew=0.6, zorder=3)
ax2.plot(precip_hours, control_precip, color='#0000ff', lw=2.2, zorder=4)
ax2.plot(precip_hours, gfs_precip, color='black', lw=2.2, zorder=4)
ax2.plot(precip_hours, para_precip, color='black', lw=2.6, zorder=4)
ax2.plot(precip_hours, para_precip, color='#ffff00', lw=0.9, zorder=4)
ax2.plot(precip_hours, mean_precip, color='#ff0000', lw=3.6, zorder=5)

ax.text(6, ty(283), 'Températures 2m', fontsize=7.2, va='center', zorder=6)
ax.text(6, ty(513), 'Précipitations', fontsize=7.2, va='center', zorder=6)

# probability row
for hs, ps in ((prob_hours_1, prob_values_1), (prob_hours_2, prob_values_2)):
    for h, p in zip(hs, ps):
        top = ty(583 - 0.27 * p)
        ax.bar(h, top - ty(593), bottom=ty(593), width=6, color='#c8fcff', zorder=1)
        ax.bar(h, ty(583) - ty(593), bottom=ty(593), width=6, color='#8ad2f4', zorder=1)
        ax.plot(h, ty(588), marker='*', ms=5, color='#3b9fe3', mec='#dff6ff', mew=0.3, zorder=2)
        ax.text(h, ty(574), '%d%%' % p, rotation=90, ha='center', va='center', fontsize=5.6,
                color='#0000ff', fontweight='bold', zorder=3)

# date labels
trans = mtransforms.offset_copy(ax.transData, fig=fig, x=7, y=-3, units='dots')
for i, lab in enumerate(date_labels):
    ax.text(i * 24, ty(600), lab, rotation=90, ha='center', va='top', fontsize=7.2,
            transform=trans, clip_on=False)

fig.text(20 / 740, 1 - 605 / 700, '(°C)', fontsize=7.2, va='center')
fig.text(708 / 740, 1 - 605 / 700, '(mm)', fontsize=7.2, va='center')


def fx(x):
    return x / 740


def fy(y):
    return 1 - y / 700


# footer legend
fig.add_artist(Line2D([fx(35), fx(66)], [fy(647)] * 2, color='#ff0000', lw=3.6))
fig.text(fx(74), fy(647), 'Moyenne des scénarios', fontsize=7.2, va='center')
fig.add_artist(Line2D([fx(225), fx(256)], [fy(637)] * 2, color='#0000ff', lw=2.6))
fig.text(fx(264), fy(637), 'Run de contrôle', fontsize=7.2, va='center')
fig.add_artist(Line2D([fx(225), fx(256)], [fy(647)] * 2, color='black', lw=2.6))
fig.text(fx(264), fy(647), 'Run GFS', fontsize=7.2, va='center')
fig.add_artist(Line2D([fx(225), fx(256)], [fy(657)] * 2, color='black', lw=2.8))
fig.add_artist(Line2D([fx(225), fx(256)], [fy(657)] * 2, color='#ffff00', lw=1.0))
fig.text(fx(264), fy(657), 'Run GFS Parallele', fontsize=7.2, va='center')
fig.text(fx(180), fy(660), 'Altitude du modèle : 4m', fontsize=7.2, va='center')
fig.text(fx(370), fy(652), '20 Perturbations', fontsize=7.2, va='center')
for i, c in enumerate(member_colors):
    fig.add_artist(Rectangle((fx(470 + 11 * i), fy(656)), 10 / 740, 7 / 700, color=c,
                             transform=fig.transFigure))
    fig.text(fx(475 + 11 * i), fy(643), '%02d' % (i + 1), fontsize=5.3, ha='center', va='center')

fig.add_artist(Rectangle((fx(20), fy(699)), 420 / 740, 32 / 700, fill=False, lw=1.3,
                         edgecolor='black', transform=fig.transFigure))
fig.text(fx(29), fy(677), 'Diagramme des ensembles GEFS sur 384h : 52.1N 5.2E', fontsize=8.2,
         fontweight='bold', va='center')
fig.text(fx(29), fy(692), 'Température 2m (°C) , précipitations (mm)', fontsize=7.2, va='center')
fig.text(fx(450), fy(672), 'Ensemble GEFS du 22/01/2019 - 00Z', fontsize=7.2, va='center')
fig.text(fx(450), fy(692), 'Copyright 2019 Meteociel.fr', fontsize=8.2, fontweight='bold', va='center')

fig.savefig('out.png', dpi=100)
